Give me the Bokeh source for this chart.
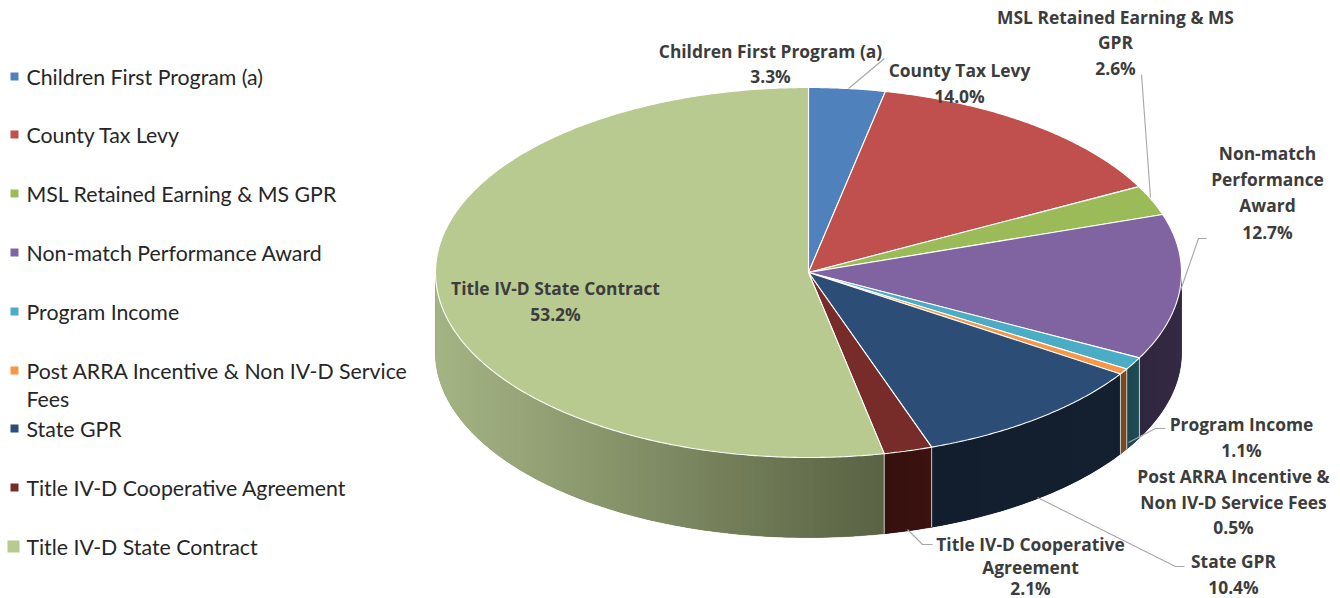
import math
from bokeh.plotting import figure
from bokeh.models import ColumnDataSource, Range1d
from bokeh.core.properties import value
from bokeh.embed import file_html
from bokeh.resources import INLINE

# Budget shares, clockwise from twelve o'clock
categories = [
    "Children First Program (a)",
    "County Tax Levy",
    "MSL Retained Earning & MS GPR",
    "Non-match Performance Award",
    "Program Income",
    "Post ARRA Incentive & Non IV-D Service Fees",
    "State GPR",
    "Title IV-D Cooperative Agreement",
    "Title IV-D State Contract",
]
shares = [3.3, 14.0, 2.6, 12.7, 1.1, 0.5, 10.4, 2.1, 53.2]

top_colors = ["#4F81BD", "#C0504D", "#9BBB59", "#8064A2", "#4BACC6",
              "#F79646", "#2C4D75", "#772C2A", "#B9CA91"]
# Side wall shading: colour at the slice's left end and at its right end
wall_left = ["#2F4D71", "#73302E", "#5D7035", "#30263E", "#1C4650",
             "#7A4A1E", "#121E2D", "#35100D", "#A5B484"]
wall_right = ["#2F4D71", "#73302E", "#5D7035", "#352A44", "#1E4C55",
              "#7A4A1E", "#141F2F", "#3A1310", "#596243"]

# Wrapped callouts: (text lines, centre x, y of each line)
callouts = [
    (["Children First Program (a)", "3.3%"], 770, [50, 75]),
    (["County Tax Levy", "14.0%"], 959, [69, 95]),
    (["MSL Retained Earning & MS", "GPR", "2.6%"], 1115, [16, 41, 67]),
    (["Non-match", "Performance", "Award", "12.7%"], 1267, [152, 178, 204, 231]),
    (["Program Income", "1.1%"], 1241, [423, 449]),
    (["Post ARRA Incentive &", "Non IV-D Service Fees", "0.5%"], 1233, [475, 501, 526]),
    (["State GPR", "10.4%"], 1233, [560, 586]),
    (["Title IV-D Cooperative", "Agreement", "2.1%"], 1030, [543, 566, 587]),
    (["Title IV-D State Contract", "53.2%"], 555, [287, 313]),
]
leader_x = [
    [848, 884],
    [1141, 1150],
    [1206, 1198, 1180],
    [1165, 1155, 1128],
    [1184, 1175, 1037],
    [932, 922, 907],
]
leader_y = [
    [88, 58],
    [74, 197],
    [238, 238, 290],
    [428, 428, 442],
    [566, 566, 497],
    [544, 544, 529],
]

legend_rows = [76, 134, 193, 252, 311, 370, 428, 487, 546]

CX, CY, RX, RY, DEPTH = 808, 272, 373, 185, 80


def point(theta):
    return CX + RX * math.sin(theta), CY - RY * math.cos(theta)


def mix(a, b, f):
    ca = [int(a[i:i + 2], 16) for i in (1, 3, 5)]
    cb = [int(b[i:i + 2], 16) for i in (1, 3, 5)]
    return "#%02x%02x%02x" % tuple(round(x + (y - x) * f) for x, y in zip(ca, cb))


def arc(t0, t1, step=math.radians(0.5)):
    n = max(2, int(abs(t1 - t0) / step) + 1)
    return [t0 + (t1 - t0) * i / n for i in range(n + 1)]


p = figure(width=1340, height=598, output_backend="svg", toolbar_location=None,
           x_range=Range1d(0, 1340), y_range=Range1d(598, 0), min_border=0,
           outline_line_color=None, background_fill_color="white",
           border_fill_color="white")
p.axis.visible = False
p.grid.visible = False

total = sum(shares)
edges = [0.0]
for s in shares:
    edges.append(edges[-1] + s / total * 2 * math.pi)

# Outer wall of the front half: one solid backing shape per slice, then
# overlapping bands that carry the shading across the slice
back_x, back_y, back_c = [], [], []
band_x, band_y, band_c = [], [], []
seam_x, seam_y = [], []
front_start, front_end = math.pi / 2, 3 * math.pi / 2
for i in range(len(shares)):
    a, b = max(edges[i], front_start), min(edges[i + 1], front_end)
    if b <= a:
        continue
    x_a, x_b = point(a)[0], point(b)[0]
    ts = arc(a, b, math.radians(1.0))
    outline = [point(t) for t in ts]
    back_x.append([q[0] for q in outline] + [q[0] for q in reversed(outline)])
    back_y.append([q[1] for q in outline] + [q[1] + DEPTH for q in reversed(outline)])
    back_c.append(mix(wall_left[i], wall_right[i], 0.5))
    for j, (t0, t1) in enumerate(zip(ts[:-1], ts[1:])):
        t_far = ts[j + 2] if j + 2 < len(ts) else t1
        x0, y0 = point(t0)
        xm, ym = point(t1)
        x1, y1 = point(t_far)
        f = ((x0 + xm) / 2 - min(x_a, x_b)) / max(1e-6, abs(x_a - x_b))
        band_x.append([x0, xm, x1, x1, xm, x0])
        band_y.append([y0, ym, y1, y1 + DEPTH, ym + DEPTH, y0 + DEPTH])
        band_c.append(mix(wall_left[i], wall_right[i], f))
    if edges[i + 1] < front_end:
        xe, ye = point(b)
        seam_x.append([xe, xe])
        seam_y.append([ye, ye + DEPTH])

p.patches(back_x, back_y, fill_color=back_c, line_color=back_c, line_width=0.6)
p.patches(band_x, band_y, fill_color=band_c, line_color=None)
p.multi_line(seam_x, seam_y, line_color="#C9CDC9", line_width=1.0)

# Top face of every slice
top_x, top_y = [], []
for i in range(len(shares)):
    pts = [point(t) for t in arc(edges[i], edges[i + 1])]
    top_x.append([CX] + [q[0] for q in pts])
    top_y.append([CY] + [q[1] for q in pts])
p.patches(top_x, top_y, fill_color=top_colors, line_color="white", line_width=1.1)

# Leader lines from callouts to their slices
p.multi_line(leader_x, leader_y, line_color="#A6A6A6", line_width=1.1)

# Callout text
lab = {"x": [], "y": [], "t": []}
for lines, cx, ys in callouts:
    for line, y in zip(lines, ys):
        lab["x"].append(cx)
        lab["y"].append(y)
        lab["t"].append(line)
p.text("x", "y", text="t", source=ColumnDataSource(lab), text_font=value("Open Sans"),
       text_font_size="17.4px", text_font_style="bold", text_color="#3C3C3C",
       text_align="center", text_baseline="middle")

# Legend at the left
swatch_size = [8] * (len(categories) - 1) + [12]
p.rect([14] * (len(categories) - 1) + [13], legend_rows, width=swatch_size,
       height=swatch_size, fill_color=top_colors, line_color=None)
leg = {"x": [], "y": [], "t": []}
for name, y in zip(categories, legend_rows):
    if name.startswith("Post ARRA"):
        leg["x"] += [26, 26]
        leg["y"] += [y, y + 28]
        leg["t"] += ["Post ARRA Incentive & Non IV-D Service", "Fees"]
    else:
        leg["x"].append(26)
        leg["y"].append(y)
        leg["t"].append(name)
p.text("x", "y", text="t", source=ColumnDataSource(leg), text_font=value("Lato"),
       text_font_size="21.3px", text_color="#262626", text_align="left",
       text_baseline="middle")

open("out.html", "w").write(file_html(p, INLINE))
